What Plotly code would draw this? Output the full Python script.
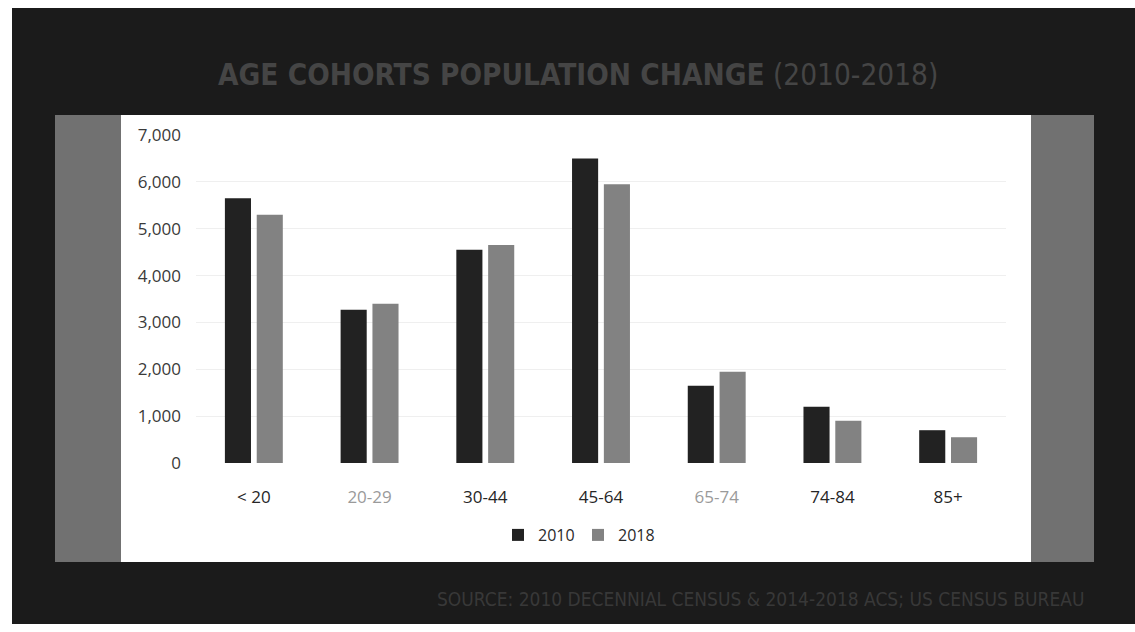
import plotly.graph_objects as go

# Age cohorts and population counts
cohorts = ["< 20", "20-29", "30-44", "45-64", "65-74", "74-84", "85+"]
pop_2010 = [5650, 3270, 4550, 6500, 1650, 1200, 700]
pop_2018 = [5300, 3400, 4650, 5950, 1950, 900, 550]
y_ticks = [0, 1000, 2000, 3000, 4000, 5000, 6000, 7000]
y_tick_text = ["0", "1,000", "2,000", "3,000", "4,000", "5,000", "6,000", "7,000"]
label_colors = ["#262626", "#9a9a9a", "#262626", "#262626", "#9a9a9a", "#262626", "#262626"]

W, H = 1135, 632
ML, MR, MT, MB = 196, 129, 135, 169
PW, PH = W - ML - MR, H - MT - MB


def fx(px):
    return (px - ML) / PW


def fy(py):
    return (H - MB - py) / PH


fig = go.Figure()
fig.add_trace(go.Bar(name="2010", x=cohorts, y=pop_2010, marker_color="#222222",
                     marker_line_width=0))
fig.add_trace(go.Bar(name="2018", x=cohorts, y=pop_2018, marker_color="#828282",
                     marker_line_width=0))

tick_text = [f'<span style="color:{c}">{t}</span>' for t, c in zip(cohorts, label_colors)]

shapes = [
    # dark frame
    dict(type="rect", xref="paper", yref="paper", x0=fx(12), x1=fx(W), y0=fy(8), y1=fy(624),
         fillcolor="#1b1b1b", line_width=0, layer="below"),
    # grey side panels
    dict(type="rect", xref="paper", yref="paper", x0=fx(55), x1=fx(122), y0=fy(115), y1=fy(562),
         fillcolor="#717171", line_width=0, layer="below"),
    dict(type="rect", xref="paper", yref="paper", x0=fx(1030), x1=fx(1094), y0=fy(115), y1=fy(562),
         fillcolor="#717171", line_width=0, layer="below"),
    # white chart panel
    dict(type="rect", xref="paper", yref="paper", x0=fx(121), x1=fx(1031), y0=fy(115), y1=fy(562),
         fillcolor="#ffffff", line_width=0, layer="below"),
]

narrow = "Liberation Sans Narrow, DejaVu Sans Condensed, Roboto Condensed, Arial Narrow, Open Sans, sans-serif"

annotations = [
    dict(xref="paper", yref="paper", x=fx(216), y=fy(75), xanchor="left", yanchor="middle",
         showarrow=False,
         text='<b>AGE COHORTS POPULATION CHANGE</b> <span style="font-size:29.5px">(2010-2018)</span>',
         font=dict(family=narrow, size=29.5, color="#454545")),
    dict(xref="paper", yref="paper", x=fx(1086), y=fy(599), xanchor="right", yanchor="middle",
         showarrow=False,
         text="SOURCE: 2010 DECENNIAL CENSUS &amp; 2014-2018 ACS; US CENSUS BUREAU",
         font=dict(family=narrow, size=19, color="#383838")),
]

fig.update_layout(
    width=W, height=H,
    margin=dict(l=ML, r=MR, t=MT, b=MB, pad=0),
    paper_bgcolor="#ffffff",
    plot_bgcolor="rgba(0,0,0,0)",
    barmode="group",
    bargap=0.45,
    bargroupgap=0.18,
    shapes=shapes,
    annotations=annotations,
    font=dict(family="Open Sans, sans-serif", size=16, color="#333333"),
    showlegend=True,
    legend=dict(orientation="h", x=fx(578), y=fy(535), xanchor="center", yanchor="middle",
                font=dict(family="Open Sans, sans-serif", size=16, color="#2a2a2a"),
                bgcolor="rgba(0,0,0,0)", itemwidth=30, entrywidth=35, entrywidthmode="pixels"),
    xaxis=dict(tickvals=cohorts, ticktext=tick_text, showgrid=False, showline=False,
               zeroline=False, ticks="", ticklabelstandoff=22,
               tickfont=dict(family="Open Sans, sans-serif", size=17)),
    yaxis=dict(range=[0, 7000], tickvals=y_ticks, ticktext=y_tick_text, showgrid=True,
               gridcolor="#efefef", gridwidth=1, zeroline=False, showline=False, ticks="",
               ticklabelstandoff=14,
               tickfont=dict(family="Open Sans, sans-serif", size=17, color="#3a3a3a")),
)

fig.write_html("out.html")
